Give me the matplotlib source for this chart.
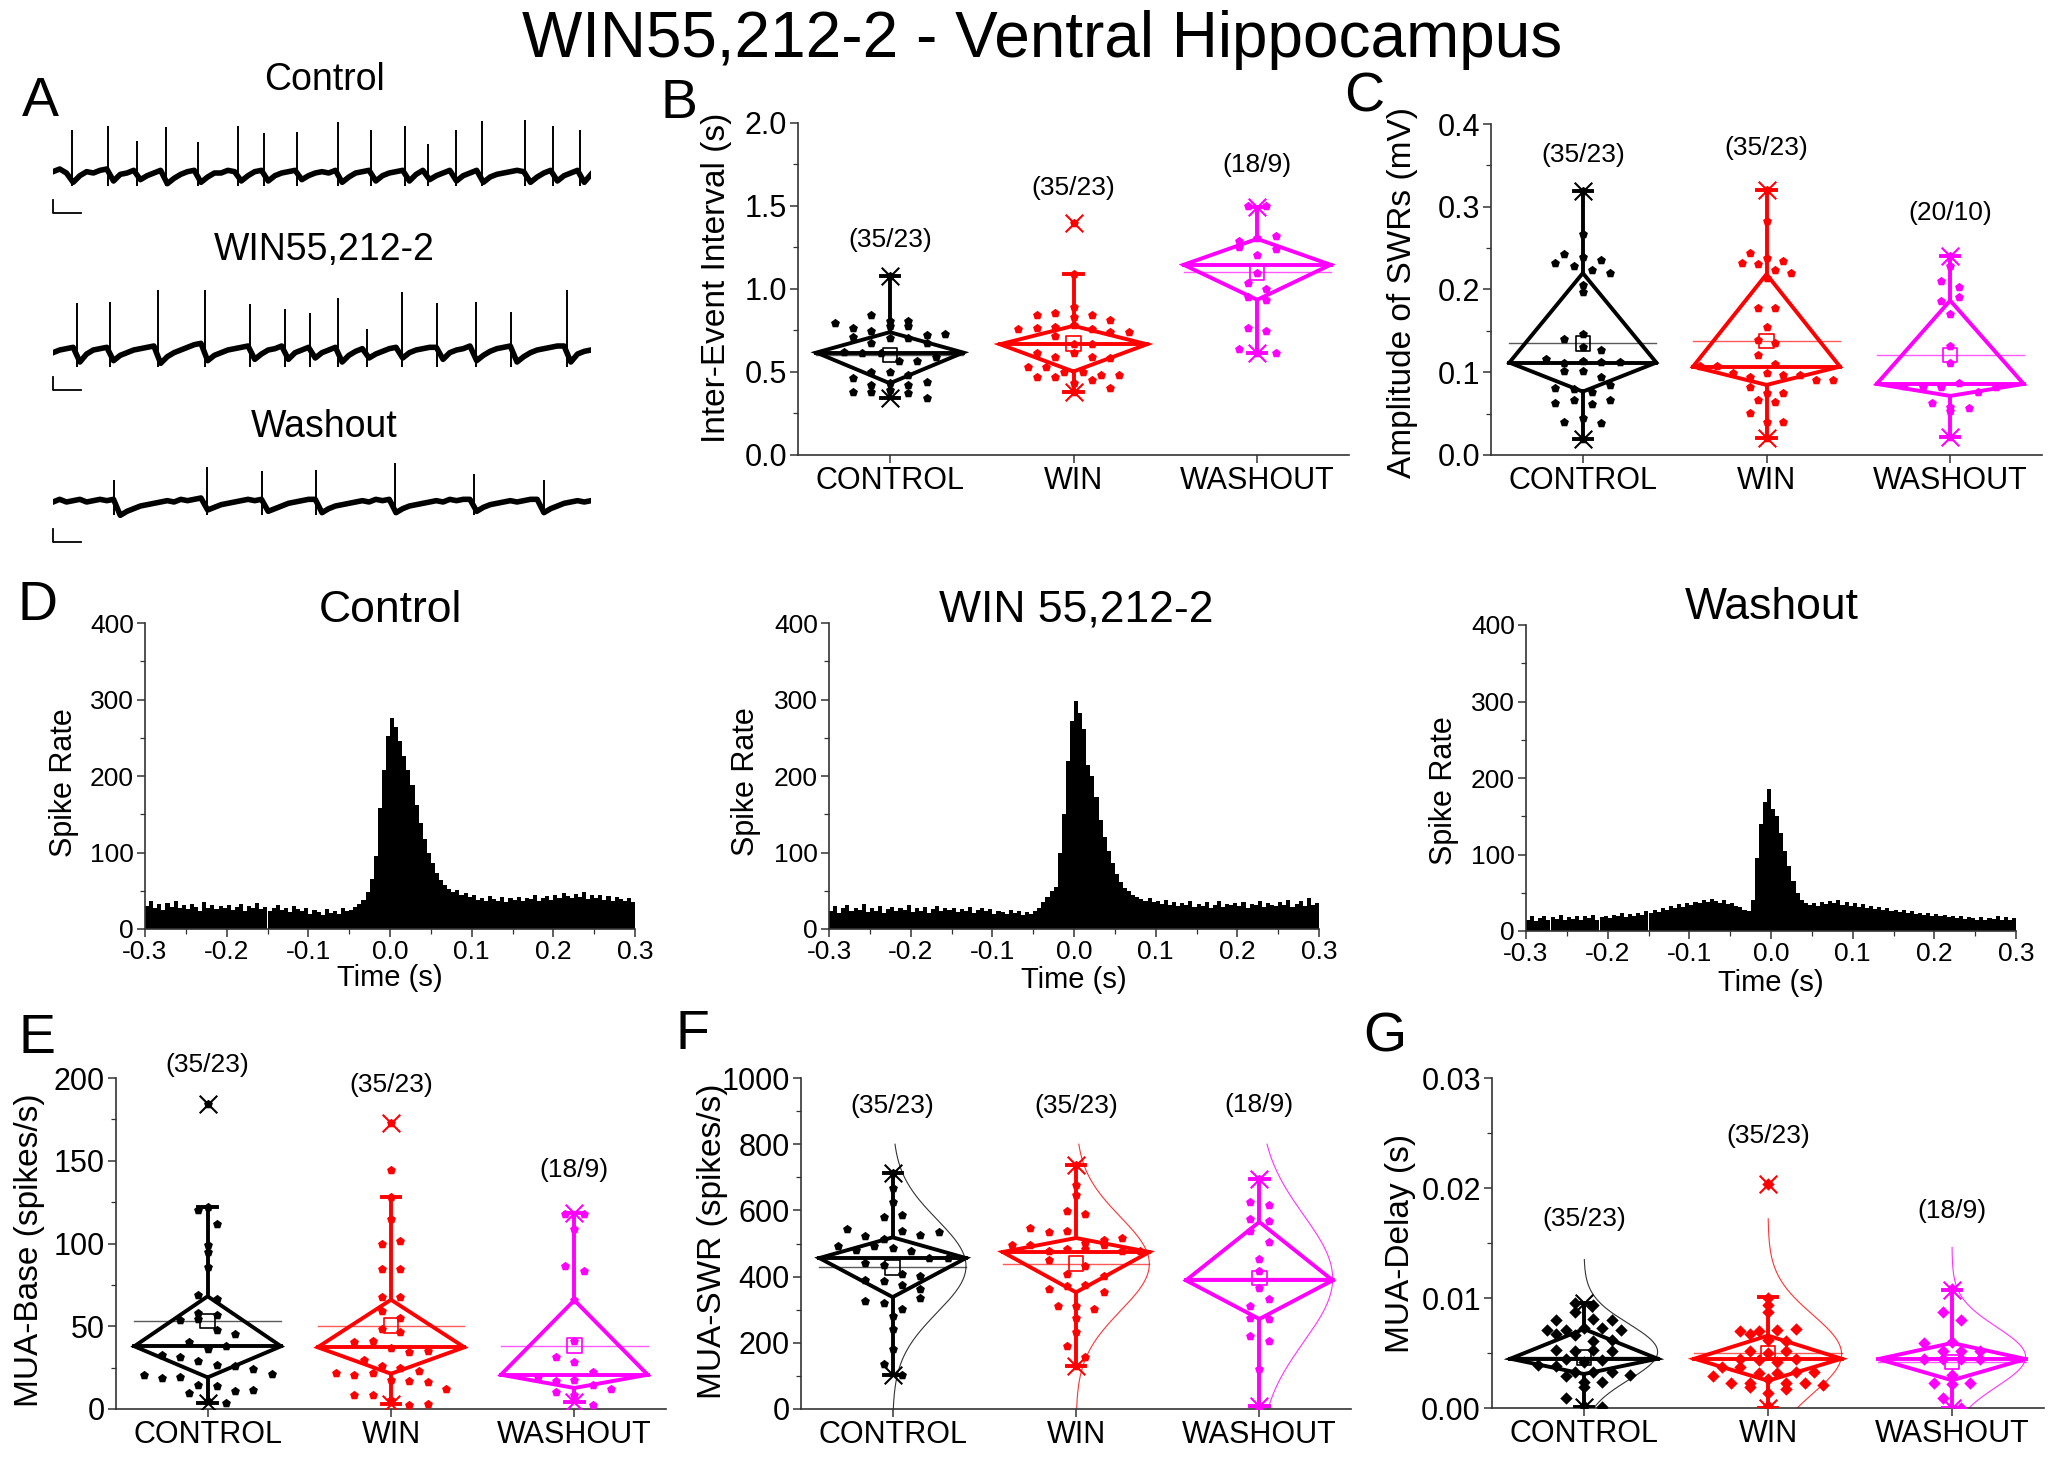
import numpy as np
import matplotlib
matplotlib.use("Agg")
import matplotlib.pyplot as plt
from matplotlib.ticker import MultipleLocator, FormatStrFormatter

plt.rcParams["font.family"] = ["Liberation Sans", "DejaVu Sans"]
plt.rcParams["axes.unicode_minus"] = False

W, H = 2056, 1458

# ---------------- data ----------------
groups = ["CONTROL", "WIN", "WASHOUT"]
colors = ["#000000", "#ff0000", "#ff00ff"]

# A: example traces (baseline every 0.125 s, spikes listed separately)
trace_dt = 0.125
t1_base = [0.01, 0.03, 0.0, -0.07, -0.02, 0.01, 0.0, 0.02, 0.03, -0.06, -0.01, 0.0, 0.02, -0.05, -0.02, 0.0,
           0.02, -0.08, -0.04, -0.01, 0.01, 0.02, -0.07, -0.03, 0.0, 0.0, 0.02, 0.01, -0.06, -0.02, 0.01, 0.02,
           -0.06, -0.02, 0.0, 0.01, 0.02, -0.05, -0.02, 0.0, 0.01, 0.0, 0.02, -0.07, -0.03, 0.0, 0.01, 0.02,
           -0.06, -0.02, 0.0, 0.01, 0.02, -0.06, -0.01, 0.02, -0.05, -0.02, 0.0, 0.02, -0.06, -0.02, 0.0, 0.02,
           -0.07, -0.03, -0.01, 0.0, 0.01, 0.02, 0.01, -0.07, -0.03, 0.0, 0.02, -0.06, -0.02, 0.0, 0.02, -0.07, -0.01]
t1_spk = [0.345, 1.02, 1.557, 2.093, 2.695, 3.443, 3.928, 4.53, 5.301, 5.903, 6.549, 6.968, 7.489, 7.966,
          8.767, 9.302, 9.802]
t1_amp = [0.325, 0.355, 0.24, 0.345, 0.23, 0.35, 0.30, 0.31, 0.38, 0.32, 0.35, 0.22, 0.32, 0.39, 0.395, 0.355, 0.32]
t1_trough = -0.1

t2_base = [-0.02, 0.0, 0.01, 0.02, -0.09, -0.03, 0.0, 0.01, 0.02, -0.08, -0.04, -0.02, 0.0, 0.01, 0.02, 0.03,
           -0.1, -0.05, -0.02, 0.0, 0.02, 0.04, 0.05, -0.08, -0.04, -0.02, 0.0, 0.01, 0.02, 0.03, -0.07, -0.03,
           0.0, 0.01, 0.03, -0.07, -0.02, 0.0, 0.02, -0.06, -0.02, 0.0, 0.02, -0.09, -0.04, -0.01, 0.01, -0.06,
           -0.03, -0.01, 0.01, 0.02, -0.06, -0.02, 0.0, 0.01, 0.02, 0.02, -0.07, -0.02, 0.0, 0.01, 0.03, -0.08,
           -0.04, -0.01, 0.01, 0.02, 0.03, -0.09, -0.05, -0.02, 0.0, 0.01, 0.02, 0.03, 0.03, -0.09, -0.03, -0.01, 0.0]
t2_spk = [0.44, 1.057, 1.96, 2.82, 3.664, 4.31, 4.772, 5.301, 5.837, 6.483, 7.137, 7.871, 8.517, 9.545]
t2_amp = [0.35, 0.358, 0.47, 0.455, 0.345, 0.31, 0.275, 0.3875, 0.155, 0.4325, 0.35, 0.3625, 0.2825, 0.605]
t2_trough = -0.125

t3_base = [0.0, 0.02, 0.0, 0.01, 0.02, 0.0, 0.01, 0.02, 0.01, 0.02, -0.1, -0.07, -0.05, -0.03, -0.02, -0.01,
           0.0, 0.01, 0.0, 0.02, 0.01, 0.02, 0.03, -0.06, -0.04, -0.02, -0.01, 0.0, 0.01, 0.02, 0.01, 0.02,
           -0.07, -0.05, -0.03, -0.01, 0.0, 0.01, 0.02, 0.02, -0.08, -0.05, -0.03, -0.02, -0.01, 0.0, 0.01, 0.0,
           0.02, 0.01, 0.02, -0.08, -0.05, -0.03, -0.02, -0.01, 0.0, 0.01, 0.0, 0.02, 0.01, 0.02, 0.02, -0.07,
           -0.04, -0.02, -0.01, 0.0, 0.01, 0.0, 0.01, 0.02, 0.02, -0.08, -0.05, -0.03, -0.01, 0.0, 0.01, 0.0, 0.01]
t3_spk = [1.138, 2.856, 3.884, 4.897, 6.366, 7.834, 9.119]
t3_amp = [0.1625, 0.2625, 0.2325, 0.2425, 0.295, 0.2125, 0.1625]
t3_trough = -0.1

# D: peri-SWR spike rate, 5 ms bins from -0.3 to 0.3 s
bin_w = 0.005
rate_ctrl = [30, 36, 28, 33, 25, 34, 29, 37, 27, 31, 26, 33, 29, 24, 35, 28, 31, 26, 30, 27,
             32, 25, 29, 33, 24, 30, 27, 34, 26, 29, 23, 28, 31, 25, 27, 22, 30, 26, 24, 28,
             20, 25, 22, 18, 26, 21, 24, 19, 27, 23, 25, 29, 33, 38, 48, 66, 95, 158, 208, 252,
             276, 264, 246, 226, 208, 188, 162, 138, 118, 100, 86, 73, 64, 58, 52, 49, 51, 45, 47, 42,
             44, 38, 41, 36, 43, 39, 37, 42, 35, 40, 38, 42, 36, 41, 39, 44, 37, 40, 43, 38,
             45, 41, 47, 43, 40, 46, 42, 48, 39, 44, 41, 45, 38, 43, 36, 42, 39, 37, 41, 35]
rate_win = [24, 30, 21, 27, 32, 23, 28, 25, 33, 22, 27, 24, 30, 21, 26, 29, 23, 28, 25, 31,
            22, 27, 24, 29, 21, 26, 30, 23, 27, 25, 28, 22, 26, 24, 29, 21, 25, 27, 23, 26,
            20, 24, 22, 19, 25, 21, 23, 18, 22, 20, 24, 28, 35, 42, 50, 55, 100, 150, 220, 272,
            298, 282, 262, 215, 200, 172, 142, 120, 102, 86, 72, 62, 54, 50, 45, 42, 39, 37, 40, 35,
            36, 33, 38, 32, 35, 30, 34, 31, 36, 29, 33, 30, 35, 28, 32, 36, 29, 33, 31, 34,
            30, 35, 28, 33, 31, 36, 29, 34, 32, 30, 35, 31, 38, 29, 33, 36, 30, 40, 32, 34]
rate_wash = [15, 19, 13, 17, 20, 14, 18, 16, 21, 15, 18, 16, 20, 14, 19, 17, 21, 15, 18, 20,
             17, 21, 19, 23, 18, 22, 20, 24, 21, 26, 23, 27, 25, 30, 28, 33, 30, 35, 32, 37,
             34, 38, 36, 40, 38, 42, 39, 37, 40, 35, 36, 33, 31, 28, 26, 40, 95, 140, 168, 186,
             160, 150, 128, 105, 85, 66, 50, 40, 36, 34, 37, 33, 38, 35, 39, 36, 40, 34, 38, 33,
             36, 32, 35, 30, 33, 29, 31, 27, 30, 26, 28, 25, 27, 23, 26, 22, 24, 21, 23, 20,
             22, 19, 21, 18, 20, 17, 19, 16, 18, 17, 15, 18, 14, 17, 16, 19, 15, 18, 14, 17]

# box stats per group: q1, median, q3, mean, whisker low, whisker high, min, max
# B: inter-event interval (s)
iei_ctrl = [1.081, 0.843, 0.81, 0.795, 0.81, 0.765, 0.745, 0.78, 0.775, 0.725, 0.71, 0.73, 0.675, 0.705, 0.705,
            0.675, 0.62, 0.617, 0.613, 0.565, 0.567, 0.59, 0.503, 0.503, 0.483, 0.462, 0.422, 0.432, 0.422,
            0.442, 0.38, 0.38, 0.39, 0.372, 0.342]
iei_win = [1.397, 1.089, 0.844, 0.858, 0.894, 0.83, 0.844, 0.814, 0.758, 0.764, 0.77, 0.784, 0.758, 0.738,
           0.738, 0.714, 0.667, 0.667, 0.613, 0.593, 0.613, 0.593, 0.583, 0.533, 0.533, 0.503, 0.503, 0.482,
           0.482, 0.468, 0.468, 0.436, 0.452, 0.402, 0.382]
iei_wash = [1.50, 1.50, 1.29, 1.307, 1.317, 1.256, 1.206, 1.24, 1.095, 1.035, 0.999, 0.951, 0.935, 0.764,
            0.744, 0.637, 0.613, 0.617]
iei_stats = [[0.432, 0.617, 0.740, 0.603, 0.342, 1.081, 0.342, 1.081],
             [0.503, 0.667, 0.778, 0.673, 0.382, 1.089, 0.382, 1.397],
             [0.935, 1.146, 1.302, 1.100, 0.617, 1.493, 0.617, 1.493]]
iei_n = ["(35/23)", "(35/23)", "(18/9)"]
iei_n_y = [1.296, 1.608, 1.749]

# C: amplitude of SWRs (mV)
amp_ctrl = [0.3185, 0.267, 0.243, 0.2387, 0.2355, 0.232, 0.228, 0.223, 0.22, 0.205, 0.1975, 0.1464, 0.14,
            0.131, 0.127, 0.1157, 0.1117, 0.113, 0.112, 0.112, 0.102, 0.101, 0.0948, 0.0815, 0.08, 0.0766,
            0.0847, 0.0633, 0.0665, 0.0617, 0.0665, 0.0395, 0.0444, 0.0383, 0.019]
amp_win = [0.3205, 0.283, 0.2447, 0.2379, 0.2347, 0.2318, 0.231, 0.2238, 0.22, 0.2137, 0.1774, 0.1774, 0.155,
           0.139, 0.1359, 0.121, 0.1097, 0.1077, 0.1077, 0.0988, 0.0948, 0.0996, 0.0968, 0.0968, 0.0907,
           0.0827, 0.0907, 0.0754, 0.0746, 0.0665, 0.0645, 0.0504, 0.0403, 0.0403, 0.0202]
amp_wash = [0.2407, 0.2278, 0.2097, 0.2036, 0.1855, 0.1907, 0.1701, 0.1318, 0.1109, 0.0835, 0.0827, 0.0827,
            0.0875, 0.0766, 0.0633, 0.0577, 0.0565, 0.0536, 0.0222, 0.0827]
amp_stats = [[0.0766, 0.1117, 0.2198, 0.135, 0.019, 0.3185, 0.019, 0.3185],
             [0.0847, 0.1068, 0.2185, 0.138, 0.0202, 0.3205, 0.0202, 0.3205],
             [0.0714, 0.0859, 0.1867, 0.121, 0.0222, 0.2407, 0.0222, 0.2407]]
amp_n = ["(35/23)", "(35/23)", "(20/10)"]
amp_n_y = [0.363, 0.371, 0.293]

# E: MUA baseline (spikes/s)
base_ctrl = [184.3, 122, 120, 112, 99.3, 94.9, 85.6, 68.7, 66.5, 58, 54, 54.6, 56.6, 47.5, 45.5, 40.3, 36.5,
             32.4, 31.4, 28.8, 26.4, 25.8, 24.2, 20.3, 18.7, 19.1, 14.7, 14.1, 9.7, 11.1, 11.7, 4.6, 3.6, 37.9, 21.0]
base_win = [172.8, 144.2, 114.8, 99.9, 101.3, 84.6, 84.8, 67.7, 67.7, 59, 55, 48.5, 46.3, 40.5, 41.3, 36.9, 34.4,
            34.8, 29.8, 25.8, 24.8, 21.8, 22.8, 20.7, 21.8, 17.7, 16.7, 16.1, 12.1, 8.7, 8.7, 5.2, 2.6, 3.0, 128]
base_wash = [118, 118, 109, 86.6, 83.2, 66, 40.9, 31.4, 28.4, 22.4, 19.1, 17.1, 17.7, 14.7, 12.3, 10.1, 8.3, 2.6]
base_stats = [[19.1, 37.9, 68.1, 53.2, 3.6, 122, 3.6, 184.3],
              [21.3, 37.3, 66.0, 50.3, 3.0, 128, 3.0, 172.8],
              [12.7, 20.7, 65.7, 38.3, 4.0, 118.4, 4.0, 118.4]]
base_n = ["(35/23)", "(35/23)", "(18/9)"]
base_n_y = [208, 196, 144.6]

# F: MUA during SWR (spikes/s)
swr_ctrl = [713, 667.6, 624.3, 579, 587, 544.8, 521.6, 513.6, 536.7, 524.6, 533.7, 493.4, 479.3, 491.4, 486.4,
            476.3, 456.2, 456.2, 441, 436, 407.8, 400.8, 388.7, 387.7, 375.6, 362.5, 325.3, 320.2, 302.1,
            335.3, 282, 241.7, 181.3, 137, 103.7]
swr_win = [736, 677.7, 645.5, 597.2, 590.1, 546.8, 533.7, 538.7, 501.5, 496.5, 511.6, 516.6, 496.5, 476.3,
           484.4, 484.4, 496.5, 476.3, 476.3, 449.1, 408.8, 433, 400.8, 362.5, 372.6, 373.6, 352.5, 310.2,
           310.2, 302.1, 274.9, 231.6, 189.3, 157.1, 128.9]
swr_wash = [694.8, 624.3, 615.3, 574, 567, 536.7, 503.5, 453.2, 415.9, 365.5, 310.2, 332.3, 274.9, 271.9,
            219.5, 204.4, 121.8, 8.1]
swr_stats = [[338, 456, 518.6, 428, 103.7, 713, 103.7, 713],
             [352.5, 474.3, 516.6, 439, 128.9, 736, 128.9, 736],
             [271.9, 388.7, 565, 395.7, 8.0, 694.8, 8.0, 694.8]]
swr_curve_top = [800, 800, 800]
swr_n = ["(35/23)", "(35/23)", "(18/9)"]
swr_n_y = [914, 914, 919]

# G: MUA delay (s)
dly_ctrl = [0.00955, 0.0094, 0.0080, 0.0087, 0.0081, 0.0080, 0.0071, 0.0071, 0.0073, 0.0073, 0.0071, 0.0067,
            0.0066, 0.0061, 0.0062, 0.0053, 0.0052, 0.0053, 0.0052, 0.00448, 0.0042, 0.0044, 0.0039, 0.0038,
            0.0029, 0.0033, 0.0033, 0.0033, 0.0024, 0.0024, 0.0030, 0.0019, 0.0009, 0.00015, 0.0001]
dly_win = [0.0204, 0.0100, 0.0094, 0.0087, 0.0070, 0.0067, 0.0070, 0.0071, 0.0072, 0.0062, 0.0061, 0.0052,
           0.0050, 0.0052, 0.0045, 0.0044, 0.0042, 0.0037, 0.0037, 0.0032, 0.0032, 0.0033, 0.0033, 0.0029,
           0.0023, 0.0023, 0.0026, 0.0023, 0.0023, 0.0019, 0.0021, 0.0014, 0.0017, 0.00015, 0.0045]
dly_wash = [0.0108, 0.0087, 0.0080, 0.0060, 0.0059, 0.0052, 0.0052, 0.0052, 0.00445, 0.0023, 0.0022, 0.0023,
            0.0030, 0.0009, 0.0045, 0.0045, 0.0045, 0.0]
dly_stats = [[0.00309, 0.00448, 0.00718, 0.00461, 0.0001, 0.00955, 0.0001, 0.00955],
             [0.00248, 0.00448, 0.00658, 0.0050, 0.0, 0.01006, 0.0, 0.0204],
             [0.00252, 0.00445, 0.00591, 0.00418, 0.0, 0.01076, 0.0, 0.01076]]
dly_curve_top = [0.0135, 0.0172, 0.0146]
dly_n = ["(35/23)", "(35/23)", "(18/9)"]
dly_n_y = [0.01718, 0.0247, 0.01788]


# ---------------- helpers ----------------
fig = plt.figure(figsize=(W / 100, H / 100), dpi=100)


def px_axes(x0, y0, x1, y1):
    return fig.add_axes([x0 / W, 1 - y1 / H, (x1 - x0) / W, (y1 - y0) / H])


def ftext(x, y, s, size, **kw):
    fig.text(x / W, 1 - y / H, s, fontsize=size, ha="center", va="center", **kw)


def style_axes(ax, tick_size):
    for sp in ["top", "right"]:
        ax.spines[sp].set_visible(False)
    for sp in ["left", "bottom"]:
        ax.spines[sp].set_color("#333333")
        ax.spines[sp].set_linewidth(1.2)
    ax.tick_params(axis="both", which="major", direction="out", length=6, width=1.1,
                   color="#333333", labelsize=tick_size, pad=2)
    ax.tick_params(axis="both", which="minor", direction="out", length=3.5, width=0.9, color="#333333")


def spread(vals, binw, maxspan=0.72):
    vals = np.asarray(vals, dtype=float)
    idx = np.floor(vals / binw).astype(int)
    uniq, counts = np.unique(idx, return_counts=True)
    step = 0.1
    if counts.max() > 1:
        step = min(0.1, maxspan / (counts.max() - 1))
    offs = np.zeros(len(vals))
    for b in uniq:
        members = np.where(idx == b)[0]
        n = len(members)
        for j, m in enumerate(members):
            offs[m] = (j - (n - 1) / 2) * step
    return offs


def draw_group(ax, pos, vals, st, color, marker, binw, msize):
    q1, med, q3, mean, wlo, whi, vmin, vmax = st
    lw = 2.8
    ax.plot([pos, pos + 0.4, pos, pos - 0.4, pos], [q1, med, q3, med, q1], color=color, lw=lw,
            solid_joinstyle="miter", zorder=3)
    ax.plot([pos - 0.4, pos + 0.4], [med, med], color=color, lw=lw, zorder=3)
    ax.plot([pos - 0.4, pos + 0.4], [mean, mean], color=color, lw=1.0, alpha=0.65, zorder=3)
    ax.plot([pos, pos], [q3, whi], color=color, lw=lw, zorder=3)
    ax.plot([pos, pos], [q1, wlo], color=color, lw=lw, zorder=3)
    for w in (wlo, whi):
        ax.plot([pos - 0.05, pos + 0.05], [w, w], color=color, lw=lw, zorder=3)
    offs = spread(vals, binw)
    ax.scatter(pos + offs, vals, marker=marker, s=msize, color=color, linewidths=0, zorder=4)
    ax.scatter([pos, pos], [vmin, vmax], marker="x", s=160, color=color, linewidths=1.5, zorder=5)
    ax.scatter([pos], [mean], marker="s", s=110, facecolors="none", edgecolors=color, linewidths=1.2, zorder=5)


def box_panel(box, data, stats, ylim, major, fmt, binw, labels, label_y, tick_size,
              marker="p", msize=45, curve_top=None):
    ax = px_axes(*box)
    for i in range(3):
        pos = i + 1
        draw_group(ax, pos, data[i], stats[i], colors[i], marker, binw, msize)
        if curve_top is not None:
            v = np.asarray(data[i])
            mu, sd = v.mean(), v.std(ddof=1)
            yy = np.linspace(0, curve_top[i], 200)
            ax.plot(pos + 0.4 * np.exp(-0.5 * ((yy - mu) / sd) ** 2), yy, color=colors[i], lw=0.8, alpha=0.8,
                    zorder=2)
        ax.text(pos, label_y[i], labels[i], ha="center", va="center", fontsize=19, clip_on=False)
    ax.set_xlim(0.5, 3.5)
    ax.set_ylim(*ylim)
    ax.set_xticks([1, 2, 3])
    ax.set_xticklabels(groups)
    ax.yaxis.set_major_locator(MultipleLocator(major))
    ax.yaxis.set_minor_locator(MultipleLocator(major / 2))
    ax.yaxis.set_major_formatter(FormatStrFormatter(fmt))
    style_axes(ax, tick_size)
    return ax


# ---------------- A: traces ----------------
traces = [(t1_base, t1_spk, t1_amp, t1_trough, 113, 233, "Control", 80),
          (t2_base, t2_spk, t2_amp, t2_trough, 290, 410, "WIN55,212-2", 250),
          (t3_base, t3_spk, t3_amp, t3_trough, 442, 562, "Washout", 427)]
for base, spk, amp, trough, y0, y1, name, ty in traces:
    ax = px_axes(53, y0, 591, y1)
    tt = np.arange(len(base)) * trace_dt
    ax.plot(tt, base, color="black", lw=4.0, solid_joinstyle="round")
    ax.vlines(spk, trough, amp, color="black", lw=1.4)
    ax.plot([0, 0, 0.52], [-0.2, -0.3, -0.3], color="black", lw=1.3, clip_on=False)
    ax.set_xlim(0, 10)
    ax.set_ylim(-0.45, 0.45)
    ax.axis("off")
    ftext(324, ty, name, 27)

# ---------------- B, C ----------------
box_panel((798, 123, 1349, 455), [iei_ctrl, iei_win, iei_wash], iei_stats, (0, 2.0), 0.5, "%.1f", 0.08,
          iei_n, iei_n_y, 22)
box_panel((1491, 124, 2042, 455), [amp_ctrl, amp_win, amp_wash], amp_stats, (0, 0.4), 0.1, "%.1f", 0.018,
          amp_n, amp_n_y, 22)

# ---------------- D: histograms ----------------
edges = -0.3 + np.arange(len(rate_ctrl)) * bin_w
hists = [(rate_ctrl, (145, 623, 635, 929), "Control", 390, 610, 64, 783, 390, 978),
         (rate_win, (829, 623, 1319, 929), "WIN 55,212-2", 1076, 610, 746, 782, 1074, 980),
         (rate_wash, (1526, 625, 2016, 931), "Washout", 1772, 608, 1444, 791, 1771, 983)]
for rates, box, name, tx, ty, lx, ly, xx, xy in hists:
    ax = px_axes(*box)
    ax.bar(edges, rates, width=bin_w, align="edge", color="black", linewidth=0)
    ax.set_xlim(-0.3, 0.3)
    ax.set_ylim(0, 400)
    ax.xaxis.set_major_locator(MultipleLocator(0.1))
    ax.xaxis.set_minor_locator(MultipleLocator(0.05))
    ax.xaxis.set_major_formatter(FormatStrFormatter("%.1f"))
    ax.yaxis.set_major_locator(MultipleLocator(100))
    ax.yaxis.set_minor_locator(MultipleLocator(50))
    style_axes(ax, 19)
    ftext(tx, ty, name, 32)
    ftext(lx, ly, "Spike Rate", 22, rotation=90)
    ftext(xx, xy, "Time (s)", 21)

# ---------------- E, F, G ----------------
box_panel((116, 1078, 666, 1409), [base_ctrl, base_win, base_wash], base_stats, (0, 200), 50, "%d", 11,
          base_n, base_n_y, 22)
box_panel((801, 1078, 1351, 1409), [swr_ctrl, swr_win, swr_wash], swr_stats, (0, 1000), 200, "%d", 50,
          swr_n, swr_n_y, 22, curve_top=swr_curve_top)
box_panel((1492, 1078, 2044, 1408), [dly_ctrl, dly_win, dly_wash], dly_stats, (0, 0.03), 0.01, "%.2f", 0.001,
          dly_n, dly_n_y, 22, marker="D", msize=40, curve_top=dly_curve_top)

# ---------------- labels ----------------
ftext(1042, 40, "WIN55,212-2 - Ventral Hippocampus", 46)
ftext(716, 278, "Inter-Event Interval (s)", 24, rotation=90)
ftext(1402, 293, "Amplitude of SWRs (mV)", 24, rotation=90)
ftext(30, 1250, "MUA-Base (spikes/s)", 24, rotation=90)
ftext(713, 1241, "MUA-SWR (spikes/s)", 24, rotation=90)
ftext(1401, 1243, "MUA-Delay (s)", 24, rotation=90)

for letter, x, y in [("A", 40, 102), ("B", 679, 104), ("C", 1364, 98), ("D", 37, 606),
                     ("E", 37, 1039), ("F", 692, 1035), ("G", 1385, 1038)]:
    ftext(x, y, letter, 40)

fig.savefig("out.png", dpi=100)
